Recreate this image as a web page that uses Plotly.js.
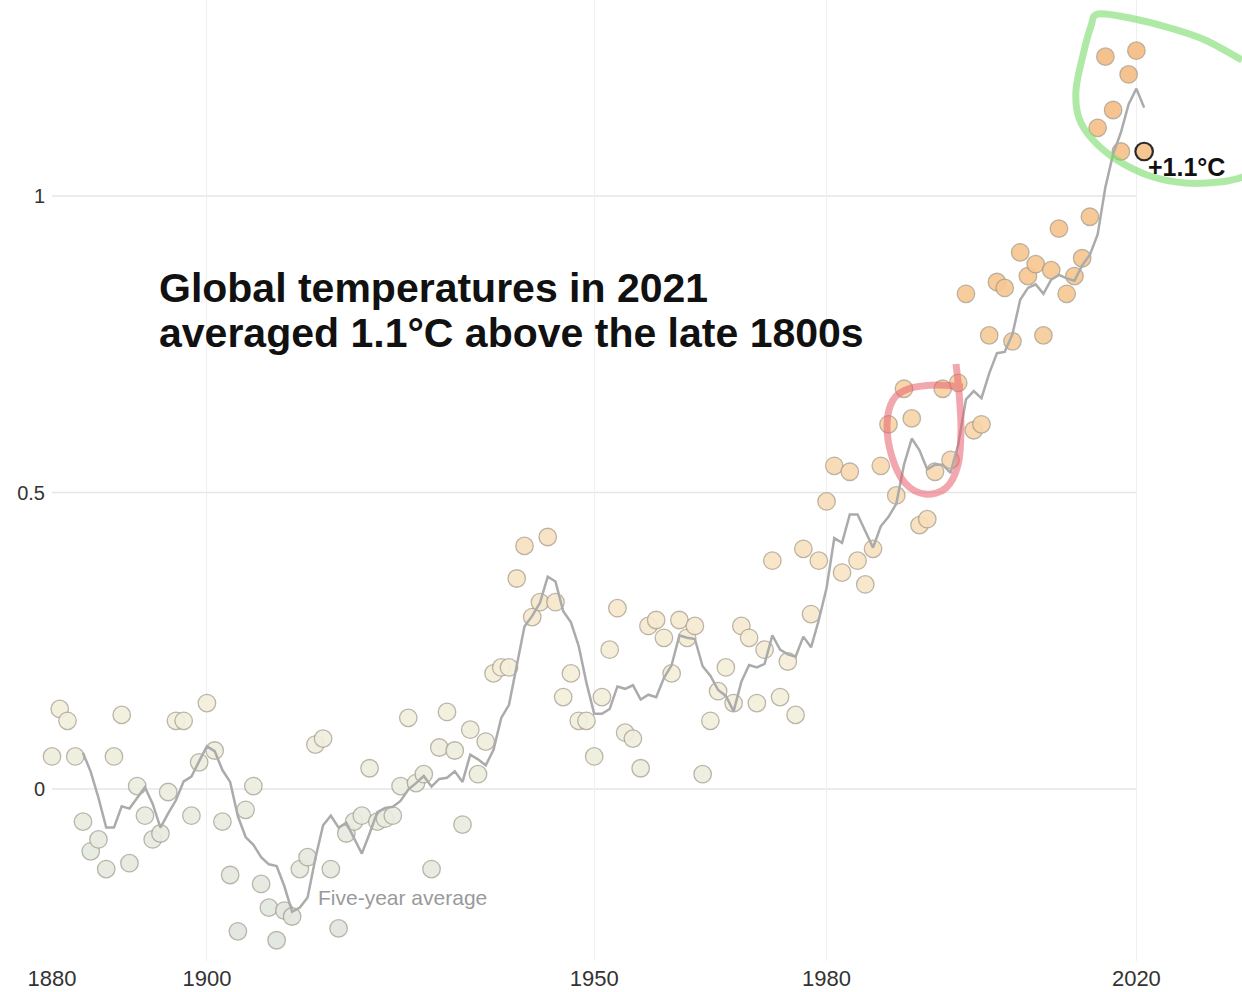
<!DOCTYPE html>
<html>
<head>
<meta charset="utf-8">
<script src="https://cdn.plot.ly/plotly-3.0.1.min.js"></script>
<style>
  html, body { margin: 0; padding: 0; background: #fff; }
  #chart { width: 1242px; height: 992px; }
</style>
</head>
<body>
<div id="chart"></div>
<script>
// ---- DATA ----
const years = [
  1880,1881,1882,1883,1884,1885,1886,1887,1888,1889,
  1890,1891,1892,1893,1894,1895,1896,1897,1898,1899,
  1900,1901,1902,1903,1904,1905,1906,1907,1908,1909,
  1910,1911,1912,1913,1914,1915,1916,1917,1918,1919,
  1920,1921,1922,1923,1924,1925,1926,1927,1928,1929,
  1930,1931,1932,1933,1934,1935,1936,1937,1938,1939,
  1940,1941,1942,1943,1944,1945,1946,1947,1948,1949,
  1950,1951,1952,1953,1954,1955,1956,1957,1958,1959,
  1960,1961,1962,1963,1964,1965,1966,1967,1968,1969,
  1970,1971,1972,1973,1974,1975,1976,1977,1978,1979,
  1980,1981,1982,1983,1984,1985,1986,1987,1988,1989,
  1990,1991,1992,1993,1994,1995,1996,1997,1998,1999,
  2000,2001,2002,2003,2004,2005,2006,2007,2008,2009,
  2010,2011,2012,2013,2014,2015,2016,2017,2018,2019,
  2020,2021
];

// Annual anomaly, °C above the late 1800s
const annual = [
  0.055, 0.135, 0.115, 0.055,-0.055,-0.105,-0.085,-0.135, 0.055, 0.125,
 -0.125, 0.005,-0.045,-0.085,-0.075,-0.005, 0.115, 0.115,-0.045, 0.045,
  0.145, 0.065,-0.055,-0.145,-0.240,-0.035, 0.005,-0.160,-0.200,-0.255,
 -0.205,-0.215,-0.135,-0.115, 0.075, 0.085,-0.135,-0.235,-0.075,-0.055,
 -0.045, 0.035,-0.055,-0.050,-0.045, 0.005, 0.120, 0.010, 0.025,-0.135,
  0.070, 0.130, 0.065,-0.060, 0.100, 0.025, 0.080, 0.195, 0.205, 0.205,
  0.355, 0.410, 0.290, 0.315, 0.425, 0.315, 0.155, 0.195, 0.115, 0.115,
  0.055, 0.155, 0.235, 0.305, 0.095, 0.085, 0.035, 0.275, 0.285, 0.255,
  0.195, 0.285, 0.255, 0.275, 0.025, 0.115, 0.165, 0.205, 0.145, 0.275,
  0.255, 0.145, 0.235, 0.385, 0.155, 0.215, 0.125, 0.405, 0.295, 0.385,
  0.485, 0.545, 0.365, 0.535, 0.385, 0.345, 0.405, 0.545, 0.615, 0.495,
  0.675, 0.625, 0.445, 0.455, 0.535, 0.675, 0.555, 0.685, 0.835, 0.605,
  0.615, 0.765, 0.855, 0.845, 0.755, 0.905, 0.865, 0.885, 0.765, 0.875,
  0.945, 0.835, 0.865, 0.895, 0.965, 1.115, 1.235, 1.145, 1.075, 1.205,
  1.245, 1.075
];

// Five-year average line (starts in 1884)
const avgYears = years.slice(4);
const fiveYearAvg = [
                          0.061, 0.029,-0.015,-0.065,-0.065,-0.029,
 -0.033,-0.015, 0.003,-0.025,-0.065,-0.041,-0.019, 0.013, 0.021, 0.047,
  0.072, 0.064, 0.032, 0.012,-0.046,-0.081,-0.094,-0.115,-0.127,-0.130,
 -0.164,-0.207,-0.200,-0.183,-0.117,-0.061,-0.045,-0.065,-0.057,-0.083,
 -0.109,-0.075,-0.039,-0.032,-0.030,-0.020,-0.001, 0.010, 0.022, 0.004,
  0.017, 0.019, 0.030, 0.012, 0.058, 0.050, 0.040, 0.066, 0.120, 0.142,
  0.207, 0.274, 0.292, 0.314, 0.358, 0.350, 0.300, 0.281, 0.241, 0.179,
  0.127, 0.127, 0.135, 0.173, 0.169, 0.175, 0.151, 0.159, 0.155, 0.187,
  0.209, 0.259, 0.255, 0.253, 0.207, 0.191, 0.167, 0.157, 0.131, 0.181,
  0.209, 0.205, 0.211, 0.259, 0.235, 0.227, 0.223, 0.257, 0.239, 0.285,
  0.339, 0.423, 0.415, 0.463, 0.463, 0.435, 0.407, 0.443, 0.459, 0.481,
  0.547, 0.591, 0.571, 0.539, 0.547, 0.547, 0.533, 0.581, 0.657, 0.671,
  0.659, 0.701, 0.735, 0.737, 0.767, 0.825, 0.845, 0.851, 0.835, 0.859,
  0.867, 0.861, 0.857, 0.883, 0.901, 0.935, 1.015, 1.071, 1.107, 1.155,
  1.181, 1.149
];

const xTickVals = [1880, 1900, 1950, 1980, 2020];
const xTickText = ['1880', '1900', '1950', '1980', '2020'];
const yTickVals = [0, 0.5, 1];
const yTickText = ['0', '0.5', '1'];

const titleLine1 = 'Global temperatures in 2021';
const titleLine2 = 'averaged 1.1\u00B0C above the late 1800s';
const lineLabel = 'Five-year average';
const lastLabel = '+1.1\u00B0C';

// ---- LAYOUT CONSTANTS ----
const W = 1242, H = 992;
const M = { l: 52, r: 94, t: 0, b: 31 };
const PW = W - M.l - M.r, PH = H - M.t - M.b;
const px = v => (v - M.l) / PW;          // page x pixel -> paper
const py = v => (H - M.b - v) / PH;      // page y pixel -> paper

function smoothPath(pts) {
  const p = pts.map(a => [px(a[0]), py(a[1])]);
  let d = 'M ' + p[0][0].toFixed(5) + ',' + p[0][1].toFixed(5);
  for (let i = 0; i < p.length - 1; i++) {
    const p0 = p[i - 1] || p[i], p1 = p[i], p2 = p[i + 1], p3 = p[i + 2] || p2;
    const c1 = [p1[0] + (p2[0] - p0[0]) / 6, p1[1] + (p2[1] - p0[1]) / 6];
    const c2 = [p2[0] - (p3[0] - p1[0]) / 6, p2[1] - (p3[1] - p1[1]) / 6];
    d += ' C ' + c1[0].toFixed(5) + ',' + c1[1].toFixed(5) + ' ' +
         c2[0].toFixed(5) + ',' + c2[1].toFixed(5) + ' ' +
         p2[0].toFixed(5) + ',' + p2[1].toFixed(5);
  }
  return d;
}

// hand-drawn highlight loops (page pixels)
const redLoop = [[956,364],[959,392],[961,430],[958,465],[946,488],[925,494],
                 [905,483],[892,457],[887,425],[893,400],[908,389],[935,385],[963,387]];
const greenLoop = [[1242,60],[1205,40],[1170,28],[1130,18],[1098,14],[1091,26],
                   [1083,55],[1076,90],[1079,118],[1093,140],[1117,160],[1150,176],
                   [1185,183],[1220,182],[1244,177]];

const n = annual.length;
const lineColors = annual.map((v, i) => i === n - 1 ? '#1a1a1a' : 'rgba(160,150,135,0.75)');
const lineWidths = annual.map((v, i) => i === n - 1 ? 2.2 : 1.3);

const dots = {
  type: 'scatter', mode: 'markers', x: years, y: annual, cliponaxis: false,
  hoverinfo: 'x+y',
  marker: {
    size: 17.5, color: annual, cmin: -0.25, cmax: 1.25,
    colorscale: [
      [0.0, '#e0e6df'], [0.17, '#ebeee0'], [0.3, '#f5efda'], [0.43, '#f8e3c2'],
      [0.57, '#f8d6aa'], [0.73, '#f7c893'], [1.0, '#f5bd84']
    ],
    showscale: false, opacity: 0.92,
    line: { color: lineColors, width: lineWidths }
  }
};

const avgLine = {
  type: 'scatter', mode: 'lines', x: avgYears, y: fiveYearAvg,
  line: { color: '#ababab', width: 2.5 }, hoverinfo: 'skip', cliponaxis: false
};

const gridShapes = yTickVals.map(v => ({
  type: 'line', xref: 'x', yref: 'y', x0: xTickVals[0], x1: xTickVals[xTickVals.length - 1],
  y0: v, y1: v, line: { color: '#e6e6e6', width: 1.5 }, layer: 'below'
}));

const layout = {
  width: W, height: H, margin: M,
  paper_bgcolor: '#ffffff', plot_bgcolor: '#ffffff',
  showlegend: false,
  font: { family: 'Liberation Sans, Arial, sans-serif', color: '#333' },
  xaxis: {
    range: [1880, 2021.5], tickvals: xTickVals, ticktext: xTickText,
    showgrid: true, gridcolor: '#efefef', gridwidth: 1, zeroline: false,
    showline: false, ticks: '', tickfont: { size: 22, color: '#333' },
    ticklabelstandoff: 2, fixedrange: true
  },
  yaxis: {
    range: [-0.290, 1.3305], tickvals: yTickVals, ticktext: yTickText,
    showgrid: false, zeroline: false, showline: false, ticks: '',
    tickfont: { size: 20, color: '#333' }, ticklabelstandoff: 6, fixedrange: true
  },
  shapes: gridShapes.concat([
    { type: 'path', xref: 'paper', yref: 'paper', path: smoothPath(redLoop),
      line: { color: 'rgba(232,95,110,0.55)', width: 7 }, layer: 'above' },
    { type: 'path', xref: 'paper', yref: 'paper', path: smoothPath(greenLoop),
      line: { color: 'rgba(120,220,105,0.6)', width: 7 }, layer: 'above' }
  ]),
  annotations: [
    { xref: 'paper', yref: 'paper', x: px(157), y: py(288), xanchor: 'left', yanchor: 'middle',
      text: '<b>' + titleLine1 + '</b>', showarrow: false,
      font: { size: 41, color: '#111', family: 'Liberation Sans, Arial, sans-serif' } },
    { xref: 'paper', yref: 'paper', x: px(157), y: py(333), xanchor: 'left', yanchor: 'middle',
      text: '<b>' + titleLine2 + '</b>', showarrow: false,
      font: { size: 41, color: '#111', family: 'Liberation Sans, Arial, sans-serif' } },
    { xref: 'paper', yref: 'paper', x: px(316), y: py(897), xanchor: 'left', yanchor: 'middle',
      text: lineLabel, showarrow: false,
      font: { size: 21, color: '#9a9a9a' } },
    { xref: 'paper', yref: 'paper', x: px(1146), y: py(167), xanchor: 'left', yanchor: 'middle',
      text: '<b>' + lastLabel + '</b>', showarrow: false,
      font: { size: 25, color: '#111' } }
  ]
};

Plotly.newPlot('chart', [dots, avgLine], layout, { displayModeBar: false, staticPlot: true });
</script>
</body>
</html>
